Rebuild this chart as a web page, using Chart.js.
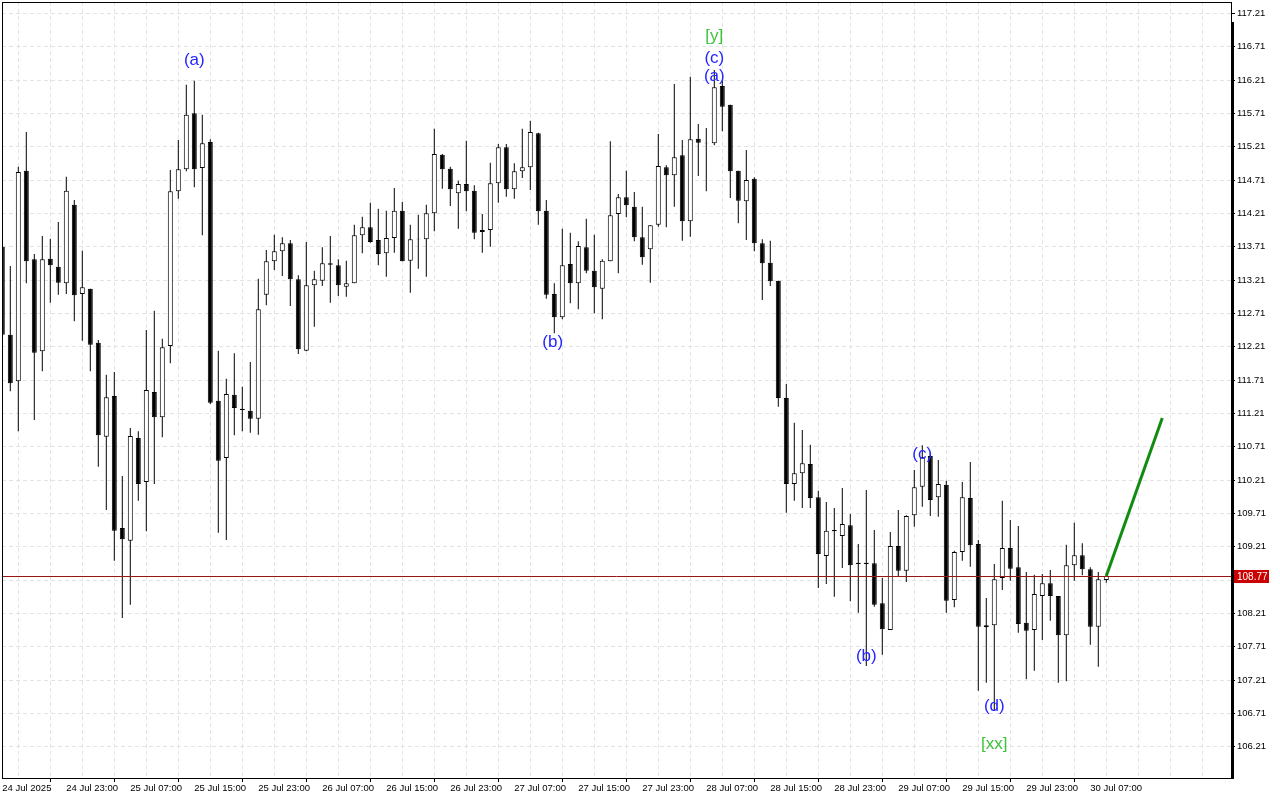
<!DOCTYPE html>
<html>
<head>
<meta charset="utf-8">
<script src="https://cdn.jsdelivr.net/npm/chart.js@4.4.0/dist/chart.umd.min.js"></script>
<style>
  body { margin: 0; background: #fff; }
  #wrap { width: 1280px; height: 800px; }
</style>
</head>
<body>
<div id="wrap"><canvas id="chart" width="1280" height="800"></canvas></div>
<script>
// hourly candles, 24 Jul 15:00 -> 30 Jul 09:00
var opens = [113.71,112.39,111.69,114.85,113.52,112.14,113.53,113.41,113.16,114.34,113.00,113.08,112.27,110.86,111.47,109.49,109.30,110.84,110.18,111.53,
  111.15,112.22,114.54,114.87,115.71,114.89,115.28,111.40,110.54,111.49,111.28,111.25,111.13,112.99,113.49,113.64,113.76,113.22,112.15,113.13,
  113.20,113.46,113.43,113.11,113.16,113.88,114.00,113.81,113.61,113.84,114.25,113.50,113.82,113.82,114.21,115.09,114.88,114.51,114.65,114.55,
  113.93,113.96,114.66,115.20,114.57,114.84,114.90,115.41,114.25,113.00,112.65,113.45,113.16,113.70,113.35,113.08,113.49,114.20,114.45,114.31,
  113.85,113.67,114.04,114.90,114.78,115.08,114.09,115.33,115.26,115.26,116.12,115.84,114.85,114.39,114.73,113.76,113.47,113.20,111.44,110.15,
  110.31,110.45,109.95,109.07,109.46,109.37,109.53,108.97,108.97,108.96,108.36,107.96,109.22,108.85,109.68,110.11,110.57,109.95,110.14,108.41,
  109.13,109.94,109.25,108.00,108.03,108.74,109.19,108.90,108.07,107.96,108.47,108.66,108.47,107.88,108.93,109.08,108.87,108.01,108.71];
var highs = [113.73,113.42,114.91,115.43,113.60,113.87,113.83,114.08,114.76,114.41,113.65,113.08,112.31,111.79,111.83,110.27,110.99,110.94,112.46,112.75,
  112.33,114.86,115.31,116.14,116.20,115.69,115.32,112.15,111.73,112.11,111.61,111.98,113.23,113.66,113.89,113.85,113.81,113.28,113.78,113.35,
  113.70,113.87,113.52,113.50,114.04,114.16,114.37,114.28,114.25,114.59,114.38,114.04,114.19,114.34,115.48,115.10,114.91,114.70,115.30,114.63,
  114.20,114.97,115.25,115.25,114.96,115.48,115.60,115.42,114.41,113.16,113.98,113.92,113.79,114.13,113.89,113.52,115.29,114.50,114.85,114.53,
  114.31,114.03,115.40,114.93,116.15,115.31,116.26,115.55,115.49,116.36,116.20,115.84,114.85,115.16,114.75,113.82,113.80,113.20,111.65,111.07,
  110.96,110.74,110.05,109.88,109.79,110.09,109.70,109.25,110.06,109.46,108.74,109.43,109.76,109.68,110.36,110.73,110.62,110.51,110.20,109.15,
  110.18,110.48,109.31,108.44,108.95,109.90,109.61,109.52,108.83,108.79,108.80,108.86,108.47,109.24,109.57,109.26,108.90,108.83,108.82];
var lows = [111.95,111.54,110.94,113.16,111.11,111.84,112.87,112.99,113.00,112.59,112.30,111.84,110.41,109.76,109.00,108.14,108.34,109.90,109.44,110.15,
  110.85,111.96,114.43,114.84,114.60,113.88,111.35,109.42,109.31,110.88,110.94,110.92,110.89,112.83,113.36,113.27,112.82,112.10,112.14,112.51,
  113.12,112.87,112.97,112.96,113.16,113.61,113.77,113.43,113.26,113.62,113.49,113.02,113.38,113.26,113.94,114.58,114.32,113.98,114.24,113.82,
  113.62,113.71,114.37,114.46,114.43,114.74,114.56,114.04,112.93,112.41,112.62,112.86,112.77,113.31,112.71,112.62,113.49,113.31,114.15,113.79,
  113.44,113.17,114.01,114.00,114.31,113.80,113.86,114.77,114.54,115.23,115.44,114.44,114.06,113.81,113.64,112.91,113.12,111.31,109.72,109.90,
  109.79,109.79,108.59,108.65,108.46,108.89,108.39,108.22,107.42,108.31,107.59,107.96,108.76,108.68,109.51,109.81,109.67,109.66,108.22,108.30,
  109.00,108.91,107.05,107.17,106.75,108.56,108.70,107.92,107.22,107.35,107.81,108.10,107.17,107.19,108.70,108.78,107.74,107.41,108.67];
var closes = [112.39,111.66,114.83,113.49,112.12,113.52,113.43,113.17,114.55,112.98,113.10,112.24,110.88,111.45,109.45,109.32,110.87,110.15,111.56,111.15,
  112.20,114.54,114.87,115.69,114.87,115.26,111.37,110.50,111.50,111.29,111.26,111.13,112.77,113.49,113.64,113.76,113.22,112.17,113.13,113.22,
  113.46,113.44,113.13,113.16,113.88,114.00,113.78,113.60,113.84,114.25,113.49,113.82,113.83,114.21,115.10,114.87,114.57,114.65,114.54,113.92,
  113.96,114.66,115.20,114.57,114.84,114.90,115.43,114.24,112.99,112.65,113.43,113.16,113.72,113.35,113.10,113.50,114.18,114.45,114.33,113.85,
  113.55,114.03,114.92,114.78,115.05,114.09,115.32,115.27,115.27,116.10,115.81,114.84,114.40,114.71,113.76,113.46,113.19,111.44,110.15,110.31,
  110.46,109.94,109.10,109.45,109.44,109.55,108.93,108.95,108.95,108.34,107.97,109.22,108.85,109.67,110.10,110.55,109.91,110.15,108.40,109.13,
  109.95,109.23,108.01,108.03,108.72,109.19,108.88,108.05,107.95,108.50,108.66,108.47,107.88,108.93,109.08,108.87,108.01,108.72,108.77];

var tickLabels = ['24 Jul 2025','24 Jul 23:00','25 Jul 07:00','25 Jul 15:00','25 Jul 23:00','26 Jul 07:00','26 Jul 15:00','26 Jul 23:00',
  '27 Jul 07:00','27 Jul 15:00','27 Jul 23:00','28 Jul 07:00','28 Jul 15:00','28 Jul 23:00','29 Jul 07:00','29 Jul 15:00','29 Jul 23:00','30 Jul 07:00'];
var priceTicks = [106.21,106.71,107.21,107.71,108.21,108.71,109.21,109.71,110.21,110.71,111.21,111.71,112.21,112.71,113.21,113.71,114.21,114.71,
  115.21,115.71,116.21,116.71,117.21];
var lastPrice = 108.77;

// projected move
var projX = [138, 145];
var projY = [108.77, 111.14];

// wave marks
var waveText = ['(a)','[y]','(c)','(a)','(b)','(b)','(c)','(d)','[xx]'];
var waveBar = [24, 89, 89, 89, 68.8, 108, 115, 124, 124];
var wavePrice = [116.51, 116.86, 116.54, 116.26, 112.27, 107.56, 110.59, 106.82, 106.25];
var waveColor = ['#2525ff','#3cc43c','#2525ff','#2525ff','#2525ff','#2525ff','#2525ff','#2525ff','#3cc43c'];

var bodies = [], wicks = [], bodyFill = [];
for (var i = 0; i < opens.length; i++) {
    wicks.push({x: i, y: [lows[i], highs[i]]});
    bodies.push({x: i, y: [Math.min(opens[i], closes[i]), Math.max(opens[i], closes[i])]});
    bodyFill.push(closes[i] >= opens[i] ? '#ffffff' : '#000000');
}
var projLine = [];
for (var j = 0; j < projX.length; j++) projLine.push({x: projX[j], y: projY[j]});

var FONT = 'Liberation Sans';

var decor = {
    id: 'decor',
    beforeDraw: function(chart) {
        var c = chart.ctx;
        c.save();
        c.fillStyle = '#ffffff';
        c.fillRect(0, 0, chart.width, chart.height);
        c.restore();
    },
    afterDatasetsDraw: function(chart) {
        var c = chart.ctx, xs = chart.scales.x, ys = chart.scales.y, a = chart.chartArea;
        c.save();
        // last price line
        var py = Math.round(ys.getPixelForValue(lastPrice)) + 0.5;
        c.strokeStyle = '#9a1414';
        c.lineWidth = 1;
        c.beginPath();
        c.moveTo(a.left, py);
        c.lineTo(a.right, py);
        c.stroke();
        // wave labels
        c.font = '17px "' + FONT + '"';
        c.textAlign = 'center';
        c.textBaseline = 'middle';
        for (var k = 0; k < waveText.length; k++) {
            c.fillStyle = waveColor[k];
            c.fillText(waveText[k], xs.getPixelForValue(waveBar[k]), ys.getPixelForValue(wavePrice[k]));
        }
        c.restore();
    },
    afterDraw: function(chart) {
        var c = chart.ctx, ys = chart.scales.y, a = chart.chartArea;
        c.save();
        c.strokeStyle = '#000000';
        c.lineWidth = 1;
        c.strokeRect(a.left + 0.5, a.top + 0.5, a.right - a.left, a.bottom - a.top);
        c.fillStyle = '#000000';
        c.fillRect(a.right, 22, 3, a.bottom - 22 + 1);
        // price tag
        var py = Math.round(ys.getPixelForValue(lastPrice));
        c.fillStyle = '#cc0000';
        c.fillRect(a.right + 3, py - 6, 35, 13);
        c.fillStyle = '#ffffff';
        c.font = '10px "' + FONT + '"';
        c.textAlign = 'left';
        c.textBaseline = 'middle';
        c.fillText(lastPrice.toFixed(2), a.right + 6, py + 1);
        c.restore();
    }
};

function noPad(s) {
    s.paddingTop = 0;
    s.paddingBottom = 0;
    s.paddingLeft = 0;
    s.paddingRight = 0;
}

new Chart(document.getElementById('chart').getContext('2d'), {
    type: 'bar',
    data: {
        datasets: [{
            type: 'line',
            data: projLine,
            borderColor: '#118c11',
            borderWidth: 3,
            pointRadius: 0,
            order: 0
        }, {
            data: bodies,
            backgroundColor: bodyFill,
            borderColor: '#000000',
            borderWidth: 1,
            borderSkipped: false,
            barThickness: 5,
            grouped: false,
            inflateAmount: 0,
            order: 1
        }, {
            data: wicks,
            backgroundColor: '#000000',
            borderWidth: 0,
            barThickness: 1,
            grouped: false,
            inflateAmount: 0,
            order: 2
        }]
    },
    options: {
        responsive: false,
        animation: false,
        devicePixelRatio: 1,
        layout: { autoPadding: false, padding: { left: 2, top: 2, right: 0, bottom: 0 } },
        plugins: { legend: { display: false }, tooltip: { enabled: false } },
        scales: {
            x: {
                type: 'linear',
                min: -0.0375,
                max: 153.59,
                offset: false,
                afterBuildTicks: function(s) {
                    var t = [];
                    for (var v = 0; v <= 152; v += 4) t.push({ value: v });
                    s.ticks = t;
                },
                afterFit: function(s) { s.height = 22; noPad(s); },
                grid: {
                    color: function(ctx) { return ctx.tick && ctx.tick.value === 0 ? 'rgba(0,0,0,0)' : '#e3e3e3'; },
                    tickColor: function(ctx) {
                        return ctx.tick && ctx.tick.value % 8 === 0 && ctx.tick.value <= 136 ? '#000000' : 'rgba(0,0,0,0)';
                    },
                    tickLength: 4
                },
                border: { display: false, dash: [4, 3] },
                ticks: {
                    autoSkip: false,
                    maxRotation: 0,
                    align: 'start',
                    padding: 1,
                    color: '#000000',
                    font: { family: FONT, size: 9.5 },
                    callback: function(v) {
                        return (v % 8 === 0 && v / 8 < tickLabels.length) ? tickLabels[v / 8] : '';
                    }
                }
            },
            y: {
                position: 'right',
                min: 105.74,
                max: 117.38,
                afterBuildTicks: function(s) {
                    s.ticks = priceTicks.map(function(p) { return { value: p }; });
                },
                afterFit: function(s) { s.width = 49; noPad(s); },
                grid: { color: '#e3e3e3', tickColor: '#000000', tickLength: 4 },
                border: { display: false, dash: [4, 3] },
                ticks: {
                    padding: 2,
                    color: '#000000',
                    font: { family: FONT, size: 9.5 },
                    callback: function(v) { return v.toFixed(2); }
                }
            }
        }
    },
    plugins: [decor]
});
</script>
</body>
</html>
